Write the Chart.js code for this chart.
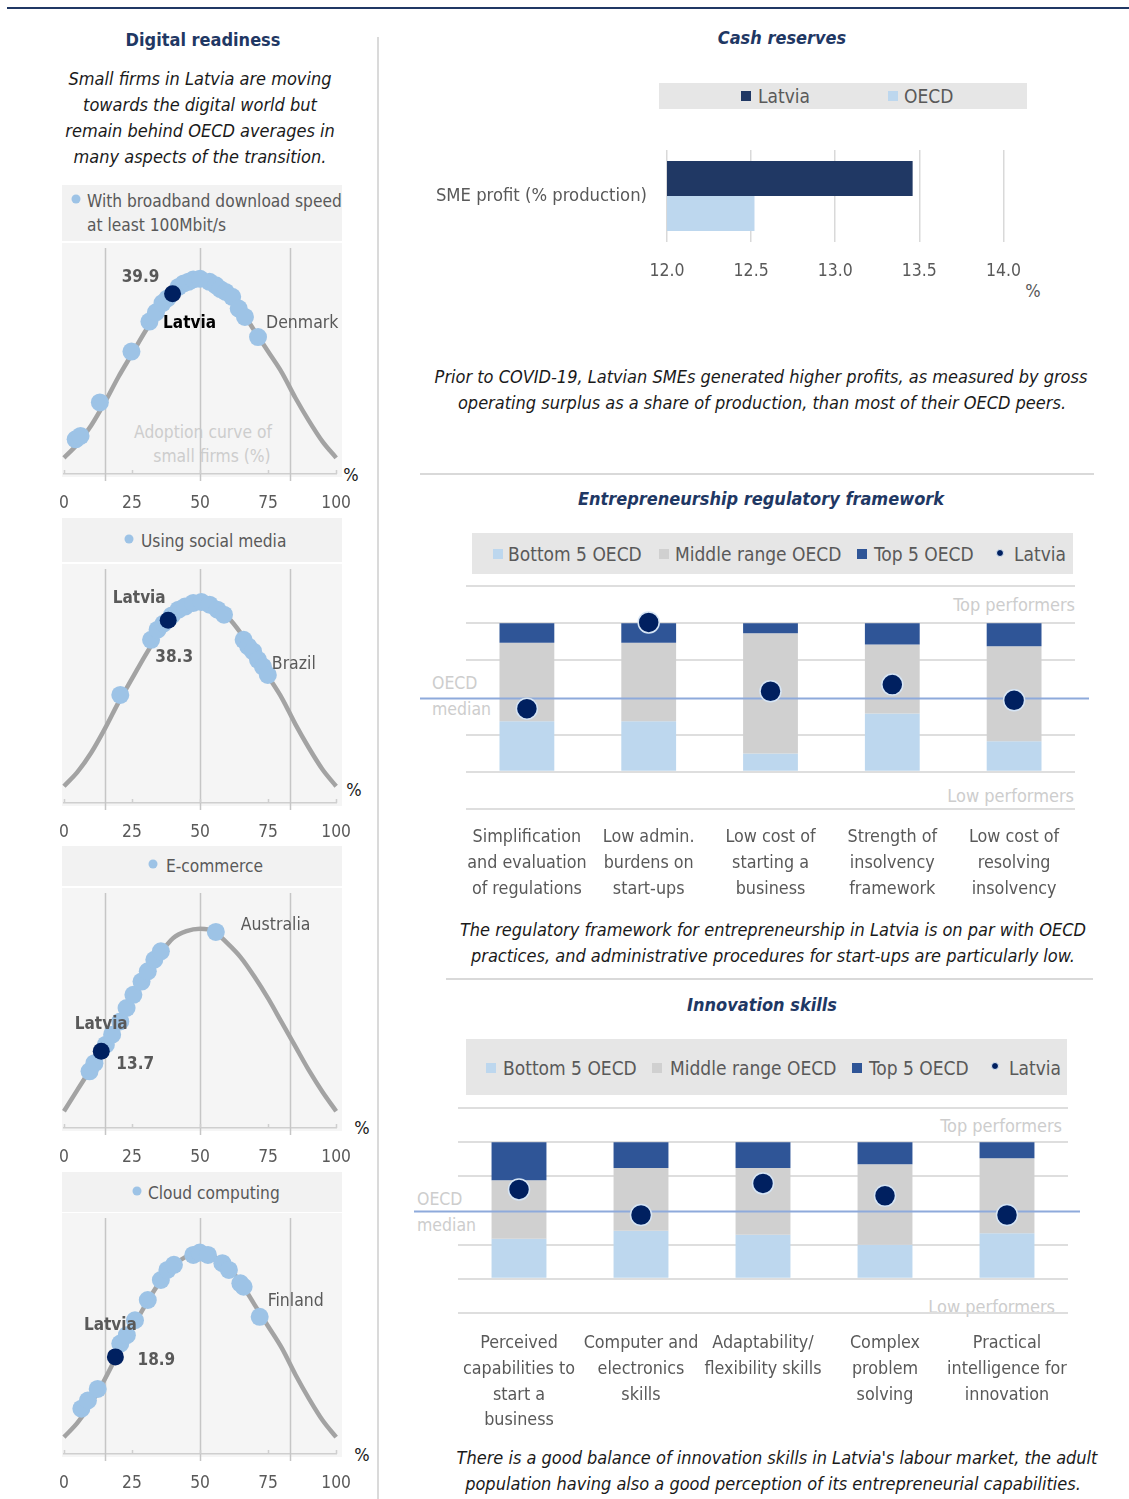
<!DOCTYPE html>
<html>
<head>
<meta charset="utf-8">
<script src="https://cdn.jsdelivr.net/npm/chart.js@4.4.1/dist/chart.umd.min.js"></script>
<style>
  html, body { margin: 0; padding: 0; background: #fff; }
  #page { position: relative; width: 1129px; height: 1499px; overflow: hidden;
          font-family: 'DejaVu Sans Condensed', 'Liberation Sans Narrow', sans-serif; color: #595959; }
  .box { position: absolute; }
  .c, .l, .r { position: absolute; white-space: nowrap; line-height: 1; }
  .c { transform: translate(-50%, -50%); }
  .l { transform: translate(0, -50%); }
  .r { transform: translate(-100%, -50%); }
  .title { font-weight: bold; color: #1f3864; font-size: 18px; }
  .ititle { font-weight: bold; font-style: italic; color: #1f3864; font-size: 18px; }
  .it { font-style: italic; color: #1a1a1a; font-size: 18px; }
  .lg { font-size: 19px; color: #595959; }
  .lgs { font-size: 17.2px; color: #595959; }
  .faint { font-size: 18px; color: #cdcdcd; }
  .faints { font-size: 17.3px; color: #cdcdcd; }
  .pct { font-size: 18px; color: #1a1a1a; }
  .dot { position: absolute; border-radius: 50%; transform: translate(-50%, -50%); }
  .sq { position: absolute; width: 10px; height: 10px; transform: translate(0, -50%); }
  canvas { position: absolute; }
</style>
</head>
<body>
<div id="page">
  <!-- frame lines -->
  <div class="box" style="left:7px;top:7px;width:1122px;height:2px;background:#203864"></div>
  <div class="box" style="left:377px;top:37px;width:2px;height:1462px;background:#dadada"></div>
  <div class="box" style="left:420px;top:473px;width:674px;height:2px;background:#d9d9d9"></div>
  <div class="box" style="left:446px;top:978px;width:647px;height:2px;background:#d9d9d9"></div>

  <!-- left column: digital readiness -->
  <div class="c title" style="left:203px;top:40px">Digital readiness</div>
  <div class="box it" style="left:200px;top:66px;transform:translateX(-50%);text-align:center;line-height:26px;white-space:nowrap">
    Small firms in Latvia are moving<br>towards the digital world but<br>remain behind OECD averages in<br>many aspects of the transition.
  </div>

  <!-- panel backgrounds -->
  <div class="box" style="left:62px;top:185px;width:280px;height:56px;background:#f2f2f2"></div>
  <div class="box" style="left:62px;top:243px;width:280px;height:234px;background:#f5f5f5"></div>
  <div class="box" style="left:62px;top:518px;width:280px;height:44px;background:#f2f2f2"></div>
  <div class="box" style="left:62px;top:564px;width:280px;height:242px;background:#f5f5f5"></div>
  <div class="box" style="left:62px;top:846px;width:280px;height:40px;background:#f2f2f2"></div>
  <div class="box" style="left:62px;top:888px;width:280px;height:243px;background:#f5f5f5"></div>
  <div class="box" style="left:62px;top:1172px;width:280px;height:40px;background:#f2f2f2"></div>
  <div class="box" style="left:62px;top:1213px;width:280px;height:244px;background:#f5f5f5"></div>

  <!-- panel legends -->
  <div class="dot" style="left:76px;top:199px;width:9px;height:9px;background:#9dc3e6"></div>
  <div class="l lgs" style="left:87px;top:202px">With broadband download speed</div>
  <div class="l lgs" style="left:87px;top:226px">at least 100Mbit/s</div>
  <div class="dot" style="left:129px;top:539px;width:9px;height:9px;background:#9dc3e6"></div>
  <div class="l lgs" style="left:141px;top:542px">Using social media</div>
  <div class="dot" style="left:153px;top:864px;width:9px;height:9px;background:#9dc3e6"></div>
  <div class="l lgs" style="left:166px;top:867px">E-commerce</div>
  <div class="dot" style="left:137px;top:1191px;width:9px;height:9px;background:#9dc3e6"></div>
  <div class="l lgs" style="left:148px;top:1194px">Cloud computing</div>

  <div class="c faints" style="left:203px;top:433px">Adoption curve of</div>
  <div class="c faints" style="left:212px;top:457px">small firms (%)</div>

  <div class="c pct" style="left:351px;top:475px">%</div>
  <div class="c pct" style="left:354px;top:790px">%</div>
  <div class="c pct" style="left:362px;top:1128px">%</div>
  <div class="c pct" style="left:362px;top:1455px">%</div>

  <!-- cash reserves -->
  <div class="c ititle" style="left:782px;top:38px">Cash reserves</div>
  <div class="box" style="left:659px;top:83px;width:368px;height:26px;background:#e6e6e6"></div>
  <div class="sq" style="left:741px;top:96px;background:#203864"></div>
  <div class="l lg" style="left:758px;top:96px">Latvia</div>
  <div class="sq" style="left:888px;top:96px;background:#bdd7ee"></div>
  <div class="l lg" style="left:904px;top:96px">OECD</div>
  <div class="c lg" style="left:1033px;top:291px;font-size:18px">%</div>
  <div class="c it" style="left:761px;top:377px">Prior to COVID-19, Latvian SMEs generated higher profits, as measured by gross</div>
  <div class="c it" style="left:762px;top:403px">operating surplus as a share of production, than most of their OECD peers.</div>

  <!-- entrepreneurship regulatory framework -->
  <div class="c ititle" style="left:761px;top:499px">Entrepreneurship regulatory framework</div>
  <div class="box" style="left:472px;top:533px;width:601px;height:41px;background:#e6e6e6"></div>
  <div class="sq" style="left:493px;top:554px;background:#bdd7ee"></div>
  <div class="l lg" style="left:508px;top:554px">Bottom 5 OECD</div>
  <div class="sq" style="left:659px;top:554px;background:#d0d0d0"></div>
  <div class="l lg" style="left:675px;top:554px">Middle range OECD</div>
  <div class="sq" style="left:857px;top:554px;background:#2f5597"></div>
  <div class="l lg" style="left:874px;top:554px">Top 5 OECD</div>
  <div class="dot" style="left:1000px;top:553px;width:6px;height:6px;background:#002060;border:1px solid #dce9f6"></div>
  <div class="l lg" style="left:1014px;top:554px">Latvia</div>
  <div class="r faint" style="left:1075px;top:605px">Top performers</div>
  <div class="r faint" style="left:1074px;top:796px">Low performers</div>
  <div class="l faint" style="left:432px;top:684px;font-size:17.5px">OECD</div>
  <div class="l faint" style="left:432px;top:710px;font-size:17.5px">median</div>
  <div class="c it" style="left:773px;top:930px">The regulatory framework for entrepreneurship in Latvia is on par with OECD</div>
  <div class="c it" style="left:773px;top:956px">practices, and administrative procedures for start-ups are particularly low.</div>

  <!-- innovation skills -->
  <div class="c ititle" style="left:762px;top:1005px">Innovation skills</div>
  <div class="box" style="left:466px;top:1039px;width:601px;height:56px;background:#e6e6e6"></div>
  <div class="sq" style="left:486px;top:1068px;background:#bdd7ee"></div>
  <div class="l lg" style="left:503px;top:1068px">Bottom 5 OECD</div>
  <div class="sq" style="left:652px;top:1068px;background:#d0d0d0"></div>
  <div class="l lg" style="left:670px;top:1068px">Middle range OECD</div>
  <div class="sq" style="left:852px;top:1068px;background:#2f5597"></div>
  <div class="l lg" style="left:869px;top:1068px">Top 5 OECD</div>
  <div class="dot" style="left:995px;top:1066px;width:6px;height:6px;background:#002060;border:1px solid #dce9f6"></div>
  <div class="l lg" style="left:1009px;top:1068px">Latvia</div>
  <div class="r faint" style="left:1062px;top:1126px">Top performers</div>
  <div class="r faint" style="left:1055px;top:1307px">Low performers</div>
  <div class="l faint" style="left:417px;top:1200px;font-size:17.5px">OECD</div>
  <div class="l faint" style="left:417px;top:1226px;font-size:17.5px">median</div>
  <div class="c it" style="left:777px;top:1458px">There is a good balance of innovation skills in Latvia's labour market, the adult</div>
  <div class="c it" style="left:773px;top:1484px">population having also a good perception of its entrepreneurial capabilities.</div>
</div>

<script>
// ---------------- data ----------------
// Adoption curve of small firms: share of firms adopting (x, %) and curve height
const curveX = [0, 5, 10, 15, 20, 25, 30, 35, 40, 45, 50, 55, 60, 65, 70, 75, 80, 85, 90, 95, 100];
const curveStandard = [7, 13, 21, 31, 42, 52, 62, 71, 78, 82, 84, 82, 78, 71, 62, 53, 44, 33, 23, 14, 7];
const curveEcommerce = [7, 16, 25, 35, 45, 54, 63, 72, 79, 82, 83, 82, 77, 71, 63, 54, 44, 34, 24, 15, 7];
const guideValues = [15, 50, 83];

// OECD countries on the curve
const broadbandX = [4.3, 6.1, 13.2, 24.8, 31.4, 33.8, 36.2, 38.0, 42.1, 44.0, 45.7, 47.5, 50.0, 53.5, 55.8, 57.5, 59.4, 61.8, 64.2, 66.5, 71.3];
const broadbandY = [15, 16.5, 31, 53, 66, 70, 74, 76, 81, 82.5, 83.2, 84.2, 84.5, 83.2, 81.7, 80, 78.8, 76.7, 71.6, 68, 59.3];
const broadbandLatvia = [39.9, 78];

const socialX = [20.7, 32.0, 34.4, 36.5, 39.6, 42.1, 44.5, 47.5, 50.5, 53.5, 56.4, 58.8, 66.0, 67.7, 69.5, 71.3, 73.1, 74.9];
const socialY = [45.2, 68.3, 72.5, 75, 78.5, 80.9, 82.2, 83.7, 84.1, 83, 80.9, 78.8, 68.3, 65.5, 63.4, 59.9, 57.1, 53.6];
const socialLatvia = [38.3, 76.5];

const ecommerceX = [9.4, 11.2, 15.4, 17.7, 20.7, 23.0, 25.5, 28.5, 30.8, 33.2, 35.6, 55.8];
const ecommerceY = [23.6, 27, 34.7, 38.9, 44.4, 50, 55.5, 61, 65.3, 70.1, 73.6, 81.7];
const ecommerceLatvia = [13.7, 32];

const cloudX = [6.4, 8.8, 12.4, 20.7, 23.1, 26.1, 30.8, 35.6, 38.0, 40.4, 47.5, 49.9, 52.9, 58.2, 60.6, 64.8, 66.0, 71.9];
const cloudY = [18.8, 22.2, 27, 45.8, 49.3, 55.5, 63.9, 72.2, 76.4, 78.5, 82.6, 83.6, 82.6, 79.2, 76.4, 70.8, 69.4, 56.9];
const cloudLatvia = [18.9, 40.3];

// Cash reserves
const cashCategories = ['SME profit (% production)'];
const cashLatvia = [13.46];
const cashOECD = [12.52];

// Entrepreneurship regulatory framework (0 = lowest, 100 = highest OECD performer)
const regCategories = [
  ['Simplification', 'and evaluation', 'of regulations'],
  ['Low admin.', 'burdens on', 'start-ups'],
  ['Low cost of', 'starting a', 'business'],
  ['Strength of', 'insolvency', 'framework'],
  ['Low cost of', 'resolving', 'insolvency']
];
const regBottom5Top = [34.0, 34.0, 12.3, 39.2, 20.6];
const regMiddleTop = [86.8, 86.8, 93.3, 85.7, 84.4];
const regLatvia = [42.5, 100.5, 54.2, 58.7, 48.1];

// Innovation skills
const skillCategories = [
  ['Perceived', 'capabilities to', 'start a', 'business'],
  ['Computer and', 'electronics', 'skills'],
  ['Adaptability/', 'flexibility skills'],
  ['Complex', 'problem', 'solving'],
  ['Practical', 'intelligence for', 'innovation']
];
const skillBottom5Top = [29.3, 35.1, 32.2, 24.9, 33.4];
const skillMiddleTop = [72.2, 81.1, 81.1, 83.8, 88.2];
const skillLatvia = [65.4, 46.7, 69.8, 60.8, 46.7];

const rangeMin = 0, rangeMax = 100, oecdMedian = 50;

// ---------------- setup ----------------
const FONT = "'DejaVu Sans Condensed', 'Liberation Sans Narrow', sans-serif";
Chart.defaults.font.family = FONT;
Chart.defaults.font.size = 17.5;
Chart.defaults.color = '#595959';
Chart.defaults.animation = false;
Chart.defaults.plugins.legend.display = false;
Chart.defaults.plugins.tooltip.enabled = false;

const page = document.getElementById('page');
function makeCanvas(left, top, width, height) {
  const c = document.createElement('canvas');
  c.width = width; c.height = height;
  c.style.left = left + 'px'; c.style.top = top + 'px';
  c.style.width = width + 'px'; c.style.height = height + 'px';
  page.appendChild(c);
  return c;
}

// vertical guide lines of the adoption curve and small inward ticks on the axis
const adoptionGuides = {
  id: 'adoptionGuides',
  beforeDatasetsDraw(chart, args, opts) {
    const { ctx, chartArea, scales: { x } } = chart;
    ctx.save();
    ctx.strokeStyle = '#c6c6c6';
    ctx.lineWidth = 1.5;
    (opts.values || []).forEach(v => {
      const px = Math.round(x.getPixelForValue(v)) + 0.5;
      ctx.beginPath();
      ctx.moveTo(px, chartArea.top + 5);
      ctx.lineTo(px, chartArea.bottom + 7);
      ctx.stroke();
    });
    ctx.strokeStyle = '#cfcfcf';
    x.ticks.forEach(t => {
      const px = Math.round(x.getPixelForValue(t.value)) + 0.5;
      ctx.beginPath();
      ctx.moveTo(px, chartArea.bottom);
      ctx.lineTo(px, chartArea.bottom - 4);
      ctx.stroke();
    });
    ctx.restore();
  }
};

// text notes anchored on plotted points
const pointNotes = {
  id: 'pointNotes',
  afterDatasetsDraw(chart, args, opts) {
    const ctx = chart.ctx;
    (opts.notes || []).forEach(n => {
      const el = chart.getDatasetMeta(n.ds).data[n.i];
      ctx.save();
      ctx.font = (n.bold ? 'bold ' : '') + (n.size || 17.5) + 'px ' + FONT;
      ctx.fillStyle = n.color;
      ctx.textAlign = n.align;
      ctx.textBaseline = 'middle';
      ctx.fillText(n.text, el.x + n.dx, el.y + n.dy);
      ctx.restore();
    });
  }
};

function adoptionChart(top, height, curve, dotsX, dotsY, latvia, notes) {
  const canvas = makeCanvas(40, top, 330, height + 45);
  return new Chart(canvas, {
    type: 'scatter',
    data: {
      datasets: [
        { type: 'line', data: curveX.map((x, i) => ({ x, y: curve[i] })), borderColor: '#a3a3a3', borderWidth: 4.5,
          pointRadius: 0, cubicInterpolationMode: 'monotone', fill: false, order: 3, clip: false },
        { data: dotsX.map((x, i) => ({ x, y: dotsY[i] })), pointRadius: 9, pointBackgroundColor: '#9dc3e6',
          pointBorderWidth: 0, order: 2, clip: false },
        { data: [{ x: latvia[0], y: latvia[1] }], pointRadius: 8.5, pointBackgroundColor: '#002060',
          pointBorderWidth: 0, order: 1, clip: false }
      ]
    },
    options: {
      responsive: false,
      devicePixelRatio: 1,
      layout: { autoPadding: false, padding: { left: 22, right: 28, top: 0, bottom: 0 } },
      scales: {
        x: {
          type: 'linear', min: 0, max: 100,
          afterFit: s => { s.height = 45; },
          ticks: { stepSize: 25, padding: 19, color: '#595959', font: { size: 17.3 } },
          grid: { display: false, drawTicks: false },
          border: { display: true, color: '#cfcfcf', width: 1.5 }
        },
        y: { display: false, min: 0, max: 100 }
      },
      plugins: { adoptionGuides: { values: guideValues }, pointNotes: { notes } }
    },
    plugins: [adoptionGuides, pointNotes]
  });
}

adoptionChart(243, 231, curveStandard, broadbandX, broadbandY, broadbandLatvia, [
  { ds: 2, i: 0, text: broadbandLatvia[0].toFixed(1), dx: -32, dy: -16, align: 'center', bold: true, color: '#595959', size: 17 },
  { ds: 2, i: 0, text: 'Latvia', dx: 17, dy: 30, align: 'center', bold: true, color: '#000000', size: 17 },
  { ds: 1, i: broadbandX.length - 1, text: 'Denmark', dx: 8, dy: -14, align: 'left', color: '#595959', size: 17.5 }
]);
adoptionChart(564, 239, curveStandard, socialX, socialY, socialLatvia, [
  { ds: 2, i: 0, text: 'Latvia', dx: -29, dy: -22, align: 'center', bold: true, color: '#595959', size: 17 },
  { ds: 2, i: 0, text: socialLatvia[0].toFixed(1), dx: 6, dy: 37, align: 'center', bold: true, color: '#595959', size: 17 },
  { ds: 1, i: socialX.length - 1, text: 'Brazil', dx: 4, dy: -10, align: 'left', color: '#595959', size: 17.5 }
]);
adoptionChart(888, 240, curveEcommerce, ecommerceX, ecommerceY, ecommerceLatvia, [
  { ds: 2, i: 0, text: 'Latvia', dx: 0, dy: -27, align: 'center', bold: true, color: '#595959', size: 17 },
  { ds: 2, i: 0, text: ecommerceLatvia[0].toFixed(1), dx: 34, dy: 13, align: 'center', bold: true, color: '#595959', size: 17 },
  { ds: 1, i: ecommerceX.length - 1, text: 'Australia', dx: 25, dy: -6, align: 'left', color: '#595959', size: 17.5 }
]);
adoptionChart(1213, 241, curveStandard, cloudX, cloudY, cloudLatvia, [
  { ds: 2, i: 0, text: 'Latvia', dx: -5, dy: -31, align: 'center', bold: true, color: '#595959', size: 17 },
  { ds: 2, i: 0, text: cloudLatvia[0].toFixed(1), dx: 41, dy: 4, align: 'center', bold: true, color: '#595959', size: 17 },
  { ds: 1, i: cloudX.length - 1, text: 'Finland', dx: 8, dy: -15, align: 'left', color: '#595959', size: 17.5 }
]);

// ---------------- cash reserves ----------------
// the category label reserves half its line height plus its padding above the plot,
// so the canvas starts that far above the plot top
new Chart(makeCanvas(420, 119, 620, 163), {
  type: 'bar',
  data: {
    labels: cashCategories,
    datasets: [
      { label: 'Latvia', data: cashLatvia, backgroundColor: '#203864', categoryPercentage: 0.76, barPercentage: 1 },
      { label: 'OECD', data: cashOECD, backgroundColor: '#bdd7ee', categoryPercentage: 0.76, barPercentage: 1 }
    ]
  },
  options: {
    indexAxis: 'y',
    responsive: false,
    devicePixelRatio: 1,
    layout: { autoPadding: false, padding: { left: 0, right: 36, top: 0, bottom: 0 } },
    scales: {
      x: {
        min: 12, max: 14,
        afterFit: s => { s.height = 40; },
        ticks: { stepSize: 0.5, padding: 19, font: { size: 17.5 }, callback: v => Number(v).toFixed(1) },
        grid: { color: '#d9d9d9', lineWidth: 1.5, drawTicks: false },
        border: { display: false }
      },
      y: {
        afterFit: s => { s.width = 247; },
        ticks: { padding: 20, font: { size: 18.3, lineHeight: 1.2 } },
        grid: { display: false, drawTicks: false },
        border: { display: false }
      }
    }
  }
});

// ---------------- OECD range charts ----------------
const medianLine = {
  id: 'medianLine',
  beforeDatasetDraw(chart, args, opts) {
    if (args.index !== 0) return;
    const { ctx, chartArea, scales: { y } } = chart;
    const py = Math.round(y.getPixelForValue(opts.value)) + 0.5;
    ctx.save();
    ctx.strokeStyle = '#8eaadb';
    ctx.lineWidth = 2;
    ctx.beginPath();
    ctx.moveTo(chartArea.left - opts.extendLeft, py);
    ctx.lineTo(chartArea.right + opts.extendRight, py);
    ctx.stroke();
    ctx.restore();
  }
};

function rangeChart(box, cats, lowTop, midTop, latvia) {
  const canvas = makeCanvas(box.left, box.top, box.width, box.height);
  const barStyle = { grouped: false, barPercentage: 0.45, categoryPercentage: 1, borderWidth: 0, order: 1 };
  return new Chart(canvas, {
    type: 'bar',
    data: {
      labels: cats,
      datasets: [
        { type: 'line', label: 'Latvia', data: latvia, showLine: false, pointRadius: 10.5,
          pointBackgroundColor: '#002060', pointBorderColor: '#d6e5f5', pointBorderWidth: 1.5, order: 0, clip: false },
        Object.assign({ label: 'Top 5 OECD', data: cats.map((_, i) => [midTop[i], rangeMax]), backgroundColor: '#2f5597' }, barStyle),
        Object.assign({ label: 'Middle range OECD', data: cats.map((_, i) => [lowTop[i], midTop[i]]), backgroundColor: '#d0d0d0' }, barStyle),
        Object.assign({ label: 'Bottom 5 OECD', data: cats.map((_, i) => [rangeMin, lowTop[i]]), backgroundColor: '#bdd7ee' }, barStyle)
      ]
    },
    options: {
      responsive: false,
      devicePixelRatio: 1,
      layout: { autoPadding: false, padding: box.padding },
      scales: {
        x: {
          afterFit: s => { s.height = box.axisHeight; },
          ticks: { padding: box.tickPadding, autoSkip: false, maxRotation: 0, font: { size: 17.8, lineHeight: 1.44 } },
          grid: { display: false, drawTicks: false },
          border: { display: false }
        },
        y: {
          min: -25, max: 125,
          ticks: { display: false, stepSize: 25 },
          grid: { drawTicks: false, lineWidth: 2, color: c => (c.tick && c.tick.value === oecdMedian) ? 'rgba(0,0,0,0)' : '#dedede' },
          border: { display: false }
        }
      },
      plugins: { medianLine: { value: oecdMedian, extendLeft: box.extendLeft, extendRight: box.extendRight } }
    },
    plugins: [medianLine]
  });
}

rangeChart({ left: 410, top: 580, width: 690, height: 330, axisHeight: 101, tickPadding: 16,
             padding: { left: 56, right: 25, top: 6, bottom: 0 }, extendLeft: 46, extendRight: 14 },
           regCategories, regBottom5Top, regMiddleTop, regLatvia);

rangeChart({ left: 400, top: 1100, width: 700, height: 340, axisHeight: 127, tickPadding: 18,
             padding: { left: 58, right: 32, top: 8, bottom: 0 }, extendLeft: 44, extendRight: 12 },
           skillCategories, skillBottom5Top, skillMiddleTop, skillLatvia);
</script>
</body>
</html>
